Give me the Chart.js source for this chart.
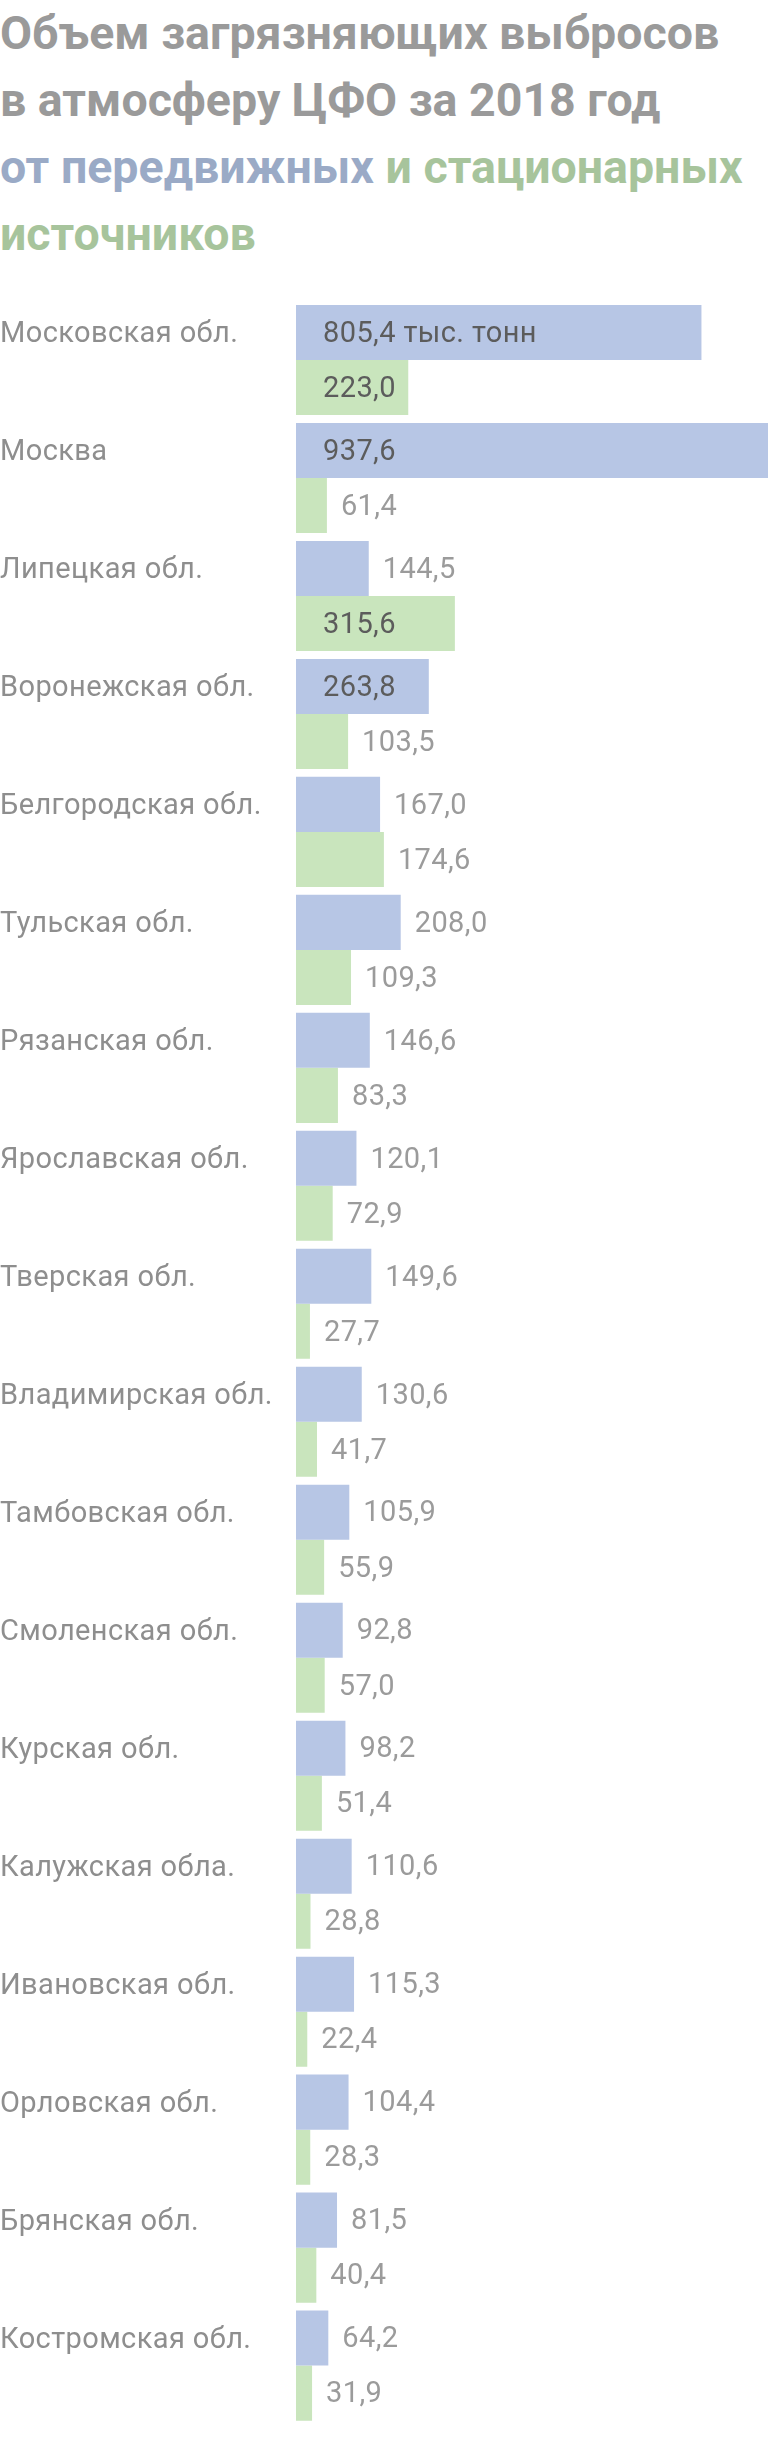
<!DOCTYPE html>
<html lang="ru">
<head>
<meta charset="utf-8">
<script src="https://cdn.jsdelivr.net/npm/chart.js@4.4.1/dist/chart.umd.min.js"></script>
<style>
  html, body { margin: 0; padding: 0; background: #fff; }
  body { width: 768px; height: 2442px; position: relative; overflow: hidden; font-family: Roboto, sans-serif; }
  #title {
    position: absolute; left: 0; top: 0; margin: 0;
    font-size: 46.5px; font-weight: 700; line-height: 67px; color: #9a9a9a;
  }
  #title .blue { color: #9aaac6; }
  #title .green { color: #a7c49c; }
  #box { position: absolute; left: 0; top: 0; width: 768px; height: 2442px; }
</style>
</head>
<body>
<h1 id="title">Объем загрязняющих выбросов<br>в атмосферу ЦФО за 2018 год<br><span class="blue">от передвижных</span> <span class="green">и стационарных<br>источников</span></h1>
<div id="box"><canvas id="myCanvas"></canvas></div>
<script>
let regions = ["Московская обл.", "Москва", "Липецкая обл.", "Воронежская обл.", "Белгородская обл.",
  "Тульская обл.", "Рязанская обл.", "Ярославская обл.", "Тверская обл.", "Владимирская обл.",
  "Тамбовская обл.", "Смоленская обл.", "Курская обл.", "Калужская обла.", "Ивановская обл.",
  "Орловская обл.", "Брянская обл.", "Костромская обл."]
// передвижные источники
let mobile = [805.4, 937.6, 144.5, 263.8, 167.0, 208.0, 146.6, 120.1, 149.6, 130.6,
  105.9, 92.8, 98.2, 110.6, 115.3, 104.4, 81.5, 64.2]
// стационарные источники
let stationary = [223.0, 61.4, 315.6, 103.5, 174.6, 109.3, 83.3, 72.9, 27.7, 41.7,
  55.9, 57.0, 51.4, 28.8, 22.4, 28.3, 40.4, 31.9]
let unit = " тыс. тонн"
let xMax = 937.6

let blue = "#b7c6e5"
let green = "#c9e5bd"
let insideLimit = 220

function fmt(v) {
  return v.toFixed(1).replace(".", ",")
}

// чуть разреженный шрифт, как в оригинале
let spacing = {
  id: "spacing",
  beforeDraw(chart) {
    chart.ctx.letterSpacing = "0.4px"
  }
}

// подписи значений: внутри длинных столбцов, снаружи коротких
let valueLabels = {
  id: "valueLabels",
  afterDatasetsDraw(chart) {
    let ctx = chart.ctx
    ctx.save()
    ctx.font = "29px Roboto"
    ctx.textBaseline = "middle"
    ctx.textAlign = "left"
    chart.data.datasets.forEach((ds, di) => {
      let meta = chart.getDatasetMeta(di)
      meta.data.forEach((bar, i) => {
        let v = ds.data[i]
        let txt = fmt(v)
        if (di == 0 && i == 0) txt += unit
        if (v >= insideLimit) {
          ctx.fillStyle = "#5c5c5c"
          ctx.fillText(txt, bar.base + 27, bar.y + 2)
        } else {
          ctx.fillStyle = "#9b9b9b"
          ctx.fillText(txt, bar.x + 14, bar.y + 2)
        }
      })
    })
    ctx.restore()
  }
}

creaGrafico()

function creaGrafico() {
  let myCanvas = document.querySelector("#myCanvas").getContext("2d")

  new Chart(myCanvas, {
    type: "bar",
    data: {
      labels: regions,
      datasets: [
        { label: "от передвижных", data: mobile, backgroundColor: blue },
        { label: "стационарных", data: stationary, backgroundColor: green },
      ],
    },
    options: {
      indexAxis: "y",
      responsive: true,
      maintainAspectRatio: false,
      animation: false,
      layout: { padding: { top: 301, right: 0, bottom: 0, left: 0 } },
      datasets: {
        bar: { categoryPercentage: 0.933, barPercentage: 1.0, borderWidth: 0 },
      },
      scales: {
        x: { display: false, min: 0, max: xMax },
        y: {
          grid: { display: false },
          border: { display: false },
          afterFit(scale) { scale.width = 296 },
          ticks: {
            crossAlign: "far",
            padding: 0,
            labelOffset: -25,
            color: "#8e8e8e",
            font: { family: "Roboto", size: 29 },
          },
        },
      },
      plugins: {
        legend: { display: false },
        tooltip: { enabled: false },
      },
    },
    plugins: [spacing, valueLabels],
  })
}
</script>
</body>
</html>
